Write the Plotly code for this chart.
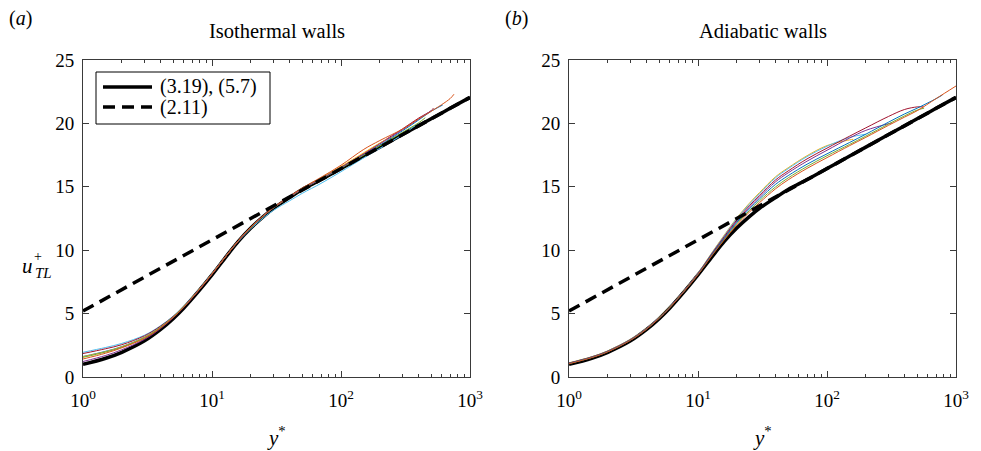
import plotly.graph_objects as go

# ---------------- data ----------------
GRID = [1, 1.5, 2, 3, 4, 5, 6, 8, 10, 13, 16, 20, 25, 30, 40, 50, 70, 100,
        150, 200, 300, 400, 500, 700, 1000]

# eq (3.19), (5.7) reference profile
u_black = [1.0, 1.48, 1.95, 2.85, 3.75, 4.6, 5.4, 6.85, 8.05, 9.55, 10.7, 11.75,
           12.65, 13.3, 14.15, 14.78, 15.57, 16.44, 17.43, 18.13, 19.12, 19.82,
           20.36, 21.19, 22.05]
# eq (2.11) log law
ystar_log = [1, 1000]
u_log = [5.2, 22.05]

# Isothermal walls (a)
iso_lightblue = [1.95, 2.33, 2.65, 3.3, 4.05, 4.8, 5.55, 6.95, 8.15, 9.6, 10.7, 11.7,
                 12.55, 13.15, 13.9, 14.48, 15.27, 16.19, 17.28, 18.03, 19.12, 20.02]
iso_darkred = [1.85, 2.23, 2.55, 3.25, 4.02, 4.78, 5.53, 6.95, 8.15, 9.63, 10.75, 11.8,
               12.7, 13.35, 14.2, 14.83, 15.62, 16.54, 17.63, 18.43, 19.57, 20.42, 21.0, 21.2]
iso_darkred_y = GRID[:23] + [520]
iso_blue = [1.62, 2.03, 2.4, 3.15, 3.95, 4.75, 5.52, 6.95, 8.15, 9.63, 10.75, 11.8,
            12.7, 13.35, 14.2, 14.83, 15.62, 16.49, 17.53, 18.28, 19.42, 20.27, 20.96, 21.45]
iso_blue_y = GRID[:23] + [614]
iso_yellow = [1.6, 2.0, 2.38, 3.13, 3.93, 4.73, 5.5, 6.93, 8.13, 9.62, 10.75, 11.8,
              12.7, 13.35, 14.2, 14.85, 15.67, 16.6, 17.68, 18.45, 18.95]
iso_yellow_y = GRID[:20] + [250]
iso_green = [1.55, 1.97, 2.35, 3.1, 3.92, 4.72, 5.5, 6.93, 8.12, 9.6, 10.73, 11.78,
             12.68, 13.33, 14.18, 14.8, 15.6, 16.47, 17.5, 18.23, 19.3, 20.05, 20.45]
iso_green_y = GRID[:22] + [450]
iso_orange = [1.42, 1.88, 2.3, 3.05, 3.88, 4.7, 5.48, 6.92, 8.12, 9.6, 10.75, 11.82,
              12.72, 13.38, 14.25, 14.9, 15.75, 16.7, 17.95, 18.65, 19.55, 20.35, 20.95,
              21.95, 22.3]
iso_orange_y = GRID[:24] + [751]
iso_purple = [1.22, 1.7, 2.15, 2.97, 3.83, 4.67, 5.46, 6.9, 8.1, 9.6, 10.73, 11.8,
              12.7, 13.35, 14.2, 14.83, 15.62, 16.52, 17.58, 18.38, 19.5, 20.35, 21.0]

# Adiabatic walls (b)
adi_yellow = [1.12, 1.6, 2.06, 2.97, 3.85, 4.7, 5.5, 6.95, 8.2, 9.9, 11.2, 12.55,
              13.7, 14.55, 15.8, 16.5, 17.45, 18.25, 18.7, 18.75]
adi_yellow_y = GRID[:19] + [160]
adi_lightblue = [1.1, 1.58, 2.04, 2.95, 3.83, 4.68, 5.48, 6.93, 8.18, 9.87, 11.15, 12.5,
                 13.62, 14.47, 15.72, 16.43, 17.38, 18.2, 18.9, 19.15]
adi_darkred = [1.09, 1.57, 2.03, 2.94, 3.82, 4.67, 5.47, 6.92, 8.16, 9.82, 11.08, 12.4,
               13.5, 14.33, 15.55, 16.25, 17.2, 18.05, 19.0, 19.65, 20.55, 21.1, 21.3, 21.3]
adi_darkred_y = GRID[:23] + [560]
adi_purple = [1.08, 1.56, 2.02, 2.93, 3.81, 4.66, 5.46, 6.91, 8.14, 9.78, 11.0, 12.3,
              13.38, 14.2, 15.4, 16.1, 17.02, 17.88, 18.85, 19.45, 20.05]
adi_purple_y = GRID[:20] + [320]
adi_blue = [1.07, 1.55, 2.01, 2.92, 3.8, 4.65, 5.45, 6.9, 8.12, 9.74, 10.95, 12.2,
            13.25, 14.05, 15.2, 15.88, 16.78, 17.6, 18.5, 19.15, 20.1, 20.75, 21.2,
            21.95, 22.24]
adi_blue_y = GRID[:24] + [785]
adi_green = [1.06, 1.54, 2.0, 2.91, 3.79, 4.64, 5.44, 6.89, 8.1, 9.7, 10.88, 12.1,
             13.12, 13.9, 15.0, 15.7, 16.6, 17.45, 18.35, 19.0, 19.95, 20.6, 21.05, 21.2]
adi_green_y = GRID[:23] + [566]
adi_orange = [1.05, 1.53, 1.99, 2.9, 3.78, 4.63, 5.43, 6.88, 8.08, 9.66, 10.82, 12.0,
              13.0, 13.75, 14.85, 15.55, 16.45, 17.3, 18.25, 18.9, 19.85, 20.5, 21.0,
              21.95, 22.95]

x_tickvals = [1, 10, 100, 1000]
x_ticktext = ["10<sup>0</sup>", "10<sup>1</sup>", "10<sup>2</sup>", "10<sup>3</sup>"]
y_tickvals = [0, 5, 10, 15, 20, 25]
legend_labels = ["(3.19), (5.7)", "(2.11)"]

C_BLUE, C_ORANGE, C_YELLOW = "#0072BD", "#D95319", "#EDB120"
C_PURPLE, C_GREEN, C_LBLUE, C_DRED = "#7E2F8E", "#77AC30", "#4DBEEE", "#A2142F"

iso_series = [
    (iso_lightblue, GRID[:len(iso_lightblue)], C_LBLUE),
    (iso_darkred, iso_darkred_y, C_DRED),
    (iso_blue, iso_blue_y, C_BLUE),
    (iso_yellow, iso_yellow_y, C_YELLOW),
    (iso_green, iso_green_y, C_GREEN),
    (iso_purple, GRID[:len(iso_purple)], C_PURPLE),
    (iso_orange, iso_orange_y, C_ORANGE),
]
adi_series = [
    (adi_yellow, adi_yellow_y, C_YELLOW),
    (adi_lightblue, GRID[:len(adi_lightblue)], C_LBLUE),
    (adi_purple, adi_purple_y, C_PURPLE),
    (adi_green, adi_green_y, C_GREEN),
    (adi_darkred, adi_darkred_y, C_DRED),
    (adi_blue, adi_blue_y, C_BLUE),
    (adi_orange, GRID, C_ORANGE),
]

FONT = "Liberation Serif"
W, H = 981, 451


def px(x):
    return x / W


def py(y):
    return 1 - y / H


DASH = "12px,7px"
fig = go.Figure()

for k, (xa, ya, series) in enumerate([("x", "y", iso_series), ("x2", "y2", adi_series)]):
    fig.add_trace(go.Scatter(x=GRID, y=u_black, mode="lines", xaxis=xa, yaxis=ya,
                             line=dict(color="black", width=3.5, shape="spline"),
                             name=legend_labels[0], showlegend=False))
    for vals, ys, col in series:
        fig.add_trace(go.Scatter(x=ys, y=vals, mode="lines", xaxis=xa, yaxis=ya,
                                 line=dict(color=col, width=1, shape="spline"),
                                 showlegend=False, hoverinfo="skip"))
    fig.add_trace(go.Scatter(x=ystar_log, y=u_log, mode="lines", xaxis=xa, yaxis=ya,
                             line=dict(color="black", width=3.5, dash=DASH),
                             name=legend_labels[1], showlegend=False))

axis_common = dict(showline=True, linecolor="#3a3a3a", linewidth=1, mirror="ticks",
                   ticks="inside", tickcolor="#3a3a3a", ticklen=6, showgrid=False,
                   zeroline=False, automargin=False,
                   tickfont=dict(family=FONT, size=19, color="black"))
xdom = [[px(83), px(470)], [px(569), px(956)]]
ydom = [py(377), py(60)]
for i, (xn, yn) in enumerate([("xaxis", "yaxis"), ("xaxis2", "yaxis2")]):
    fig.layout[xn] = dict(axis_common, type="log", range=[0, 3], domain=xdom[i],
                          anchor="y" if i == 0 else "y2",
                          tickvals=x_tickvals, ticktext=x_ticktext,
                          minor=dict(ticks="inside", ticklen=3, tickcolor="#3a3a3a",
                                     dtick="D1", showgrid=False),
                          ticklabelstandoff=6)
    fig.layout[yn] = dict(axis_common, range=[0, 25], domain=ydom,
                          anchor="x" if i == 0 else "x2",
                          tickvals=y_tickvals, ticklabelstandoff=4)

ann = [
    dict(text="Isothermal walls", x=276.5, y=31, size=20.5),
    dict(text="Adiabatic walls", x=762.5, y=31, size=20.5),
    dict(text="(<i>a</i>)", x=20, y=18),
    dict(text="(<i>b</i>)", x=516, y=18),
    dict(text="<i>y</i><sup>*</sup>", x=276.5, y=436, size=21),
    dict(text="<i>y</i><sup>*</sup>", x=762.5, y=436, size=21),
    dict(text="<i>u</i>", x=27, y=266, size=21),
    dict(text="+", x=38, y=256, size=14),
    dict(text="<i>TL</i>", x=43, y=273, size=15),
    dict(text=legend_labels[0], x=158, y=87, size=20, xanchor="left"),
    dict(text=legend_labels[1], x=158, y=107, size=20, xanchor="left"),
]
annotations = []
for a in ann:
    annotations.append(dict(text=a["text"], x=px(a["x"]), y=py(a["y"]),
                            xref="paper", yref="paper", showarrow=False,
                            xanchor=a.get("xanchor", "center"), yanchor="middle",
                            font=dict(family=FONT, size=a.get("size", 20), color="black")))

# legend frame and samples (decoration)
shapes = [
    dict(type="rect", xref="paper", yref="paper", x0=px(96), x1=px(270),
         y0=py(124), y1=py(72), line=dict(color="black", width=1),
         fillcolor="white", layer="above"),
    dict(type="line", xref="paper", yref="paper", x0=px(103), x1=px(152),
         y0=py(87), y1=py(87), line=dict(color="black", width=3.5), layer="above"),
    dict(type="line", xref="paper", yref="paper", x0=px(103), x1=px(152),
         y0=py(107), y1=py(107), line=dict(color="black", width=3.5, dash=DASH),
         layer="above"),
]

fig.update_layout(
    template="none",
    width=W, height=H, margin=dict(l=0, r=0, t=0, b=0, autoexpand=False),
    plot_bgcolor="white", paper_bgcolor="white",
    annotations=annotations, shapes=shapes, showlegend=False,
)

fig.write_html("out.html",
               config={"displayModeBar": False},
               post_script="document.body.style.margin='0';"
                           "document.body.style.overflow='hidden';")
